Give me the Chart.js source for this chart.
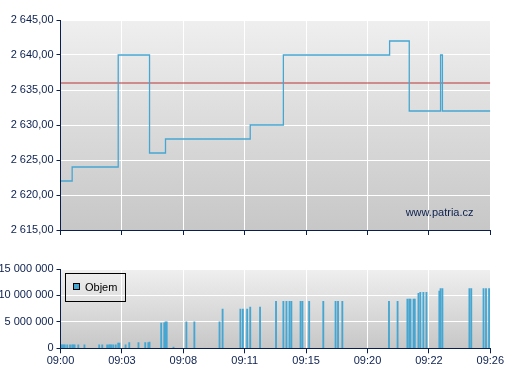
<!DOCTYPE html>
<html>
<head>
<meta charset="utf-8">
<script src="https://cdn.jsdelivr.net/npm/chart.js@4.4.1/dist/chart.umd.min.js"></script>
<style>
  html, body { margin: 0; padding: 0; background: #fff; }
  #wrap { position: relative; width: 507px; height: 380px; overflow: hidden; }
  canvas { position: absolute; left: 0; }
  #priceChart { top: 0; }
  #volChart { top: 250px; }
</style>
</head>
<body>
<div id="wrap">
  <canvas id="priceChart" width="507" height="245"></canvas>
  <canvas id="volChart" width="507" height="130"></canvas>
</div>
<script>
/* ─── DATA ─────────────────────────────────────────────── */
// x axis is evenly spaced by label, 10 units per label step
const tickLabels = ['09:00', '09:03', '09:08', '09:11', '09:15', '09:20', '09:22', '09:26'];
const tickPos    = [0, 10, 20, 30, 40, 50, 60, 70];

const priceTicks  = [2615, 2620, 2625, 2630, 2635, 2640, 2645];
const volumeTicks = [0, 5000000, 10000000, 15000000];

const priceX = [0, 1.9, 9.4, 14.5, 17.1, 30.9, 36.3, 53.6, 56.8, 61.9, 62.2, 70];
const priceY = [2622, 2624, 2640, 2626, 2628, 2630, 2640, 2642, 2632, 2640, 2632, 2632];
const refPrice = 2636;

const volX = [
  0.1, 0.3, 0.5, 0.7, 1.1, 1.55, 1.9, 2.1, 2.3, 2.9, 3.9, 6.3, 6.8, 7.6, 7.9, 8.1, 8.3, 8.6, 9.0,
  9.4, 9.6, 10.6, 11.2, 12.7, 13.8, 14.3, 14.5, 16.4, 16.9, 17.1, 17.3, 18.4, 20.5, 21.8, 25.9,
  26.4, 29.3, 29.7, 30.4, 30.9, 32.5, 35.1, 36.3, 36.8, 37.3, 37.6, 39.1, 39.4, 40.5, 42.8, 44.8,
  45.2, 45.9, 53.5, 54.9, 56.5, 56.8, 57.0, 57.5, 57.7, 58.3, 58.6, 59.1, 59.6, 61.7, 61.9, 62.2,
  66.6, 66.9, 68.9, 69.3, 69.8
];
const volY = [
  650000, 650000, 650000, 650000, 650000, 650000, 650000, 650000, 650000, 650000, 650000, 650000,
  650000, 650000, 650000, 650000, 650000, 650000, 650000,
  1000000, 1000000, 650000, 1070000, 1070000, 1070000, 1070000, 1200000, 4750000, 4800000, 5000000,
  5000000, 250000, 5000000, 5000000, 5000000,
  7400000, 7400000, 7400000, 7400000, 7800000, 7800000, 8900000, 8900000, 8900000, 8900000, 8900000,
  8900000, 8900000, 8900000, 8900000, 8900000,
  8900000, 8900000, 8900000, 8900000, 9300000, 9300000, 9300000, 9300000, 9300000, 10400000,
  10600000, 10600000, 10600000, 10800000, 11300000, 11300000,
  11300000, 11300000, 11300000, 11300000, 11300000
];

/* ─── STYLE ────────────────────────────────────────────── */
const NAVY  = '#0b1f4e';
const BLUE  = '#46a6d2';
const RED   = '#b83436';
const FONT  = { family: "'Liberation Sans', Arial, sans-serif", size: 11 };

function fmtNum(v, dec) {
  const s = v.toFixed(dec);
  const parts = s.split('.');
  const ip = parts[0].replace(/\B(?=(\d{3})+(?!\d))/g, ' ');
  return parts[1] ? ip + ',' + parts[1] : ip;
}

// gradient behind the plot area
const plotBg = {
  id: 'plotBg',
  beforeDraw(chart) {
    const { ctx, chartArea: a } = chart;
    const g = ctx.createLinearGradient(0, a.top, 0, a.bottom);
    g.addColorStop(0, '#efefef');
    g.addColorStop(1, '#c7c7c7');
    ctx.save();
    ctx.fillStyle = g;
    ctx.fillRect(a.left, a.top, a.right - a.left, a.bottom - a.top);
    ctx.restore();
  }
};

const watermark = {
  id: 'watermark',
  afterDatasetsDraw(chart) {
    const ctx = chart.ctx;
    ctx.save();
    ctx.font = "11px 'Liberation Sans', Arial, sans-serif";
    ctx.fillStyle = NAVY;
    ctx.textAlign = 'right';
    ctx.textBaseline = 'alphabetic';
    ctx.fillText('www.patria.cz', 473.5, 215.5);
    ctx.restore();
  }
};

const volLegend = {
  id: 'volLegend',
  afterDraw(chart) {
    const ctx = chart.ctx;
    ctx.save();
    ctx.strokeStyle = '#000';
    ctx.lineWidth = 1;
    ctx.strokeRect(65.5, 23.5, 60, 28);
    ctx.fillStyle = BLUE;
    ctx.fillRect(73.5, 33.5, 6, 6);
    ctx.strokeRect(73.5, 33.5, 6, 6);
    ctx.font = "11px 'Liberation Sans', Arial, sans-serif";
    ctx.fillStyle = '#000';
    ctx.textBaseline = 'middle';
    ctx.fillText('Objem', 85, 37.5);
    ctx.restore();
  }
};

function xScale(showLabels, height) {
  return {
    type: 'linear',
    min: 0,
    max: 70,
    offset: false,
    afterBuildTicks: s => { s.ticks = tickPos.map(v => ({ value: v })); },
    ticks: {
      display: showLabels,
      color: NAVY,
      font: FONT,
      padding: 1,
      maxRotation: 0,
      autoSkip: false,
      callback: v => tickLabels[tickPos.indexOf(v)]
    },
    grid: { offset: false, color: '#ffffff', lineWidth: 1, tickColor: NAVY, tickLength: 5 },
    border: { color: NAVY, width: 1, z: 1 },
    afterFit: s => { s.height = height; }
  };
}

function yScale(min, max, ticks, fmt) {
  return {
    min: min,
    max: max,
    afterBuildTicks: s => { s.ticks = ticks.map(v => ({ value: v })); },
    ticks: { color: NAVY, font: FONT, padding: 3, callback: fmt },
    grid: { color: '#ffffff', lineWidth: 1, tickColor: NAVY, tickLength: 4 },
    border: { color: NAVY, width: 1, z: 1 },
    afterFit: s => { s.width = 60.5; }
  };
}

/* ─── PRICE CHART ──────────────────────────────────────── */
new Chart(document.getElementById('priceChart'), {
  type: 'line',
  data: {
    datasets: [
      {
        label: 'Cena',
        data: priceX.map((x, i) => ({ x: x, y: priceY[i] })),
        borderColor: BLUE,
        borderWidth: 1.3,
        stepped: 'before',
        pointRadius: 0,
        fill: false,
        order: 1
      },
      {
        label: 'Ref',
        data: [{ x: 0, y: refPrice }, { x: 70, y: refPrice }],
        borderColor: RED,
        borderWidth: 1.2,
        pointRadius: 0,
        fill: false,
        order: 2
      }
    ]
  },
  options: {
    responsive: false,
    devicePixelRatio: 1,
    animation: false,
    layout: { padding: { left: 0, right: 16.7, top: 20, bottom: 0 } },
    plugins: { legend: { display: false }, tooltip: { enabled: false } },
    scales: {
      x: xScale(false, 15),
      y: yScale(2615, 2645, priceTicks, v => fmtNum(v, 2))
    }
  },
  plugins: [plotBg, watermark]
});

/* ─── VOLUME CHART ─────────────────────────────────────── */
new Chart(document.getElementById('volChart'), {
  type: 'bar',
  data: {
    datasets: [{
      label: 'Objem',
      data: volX.map((x, i) => ({ x: x, y: volY[i] })),
      backgroundColor: BLUE,
      borderWidth: 0,
      barThickness: 1.2
    }]
  },
  options: {
    responsive: false,
    devicePixelRatio: 1,
    animation: false,
    layout: { padding: { left: 0, right: 16.7, top: 19, bottom: 0 } },
    plugins: { legend: { display: false }, tooltip: { enabled: false } },
    scales: {
      x: xScale(true, 31.7),
      y: yScale(0, 15000000, volumeTicks, v => fmtNum(v, 0))
    }
  },
  plugins: [plotBg, volLegend]
});
</script>
</body>
</html>
